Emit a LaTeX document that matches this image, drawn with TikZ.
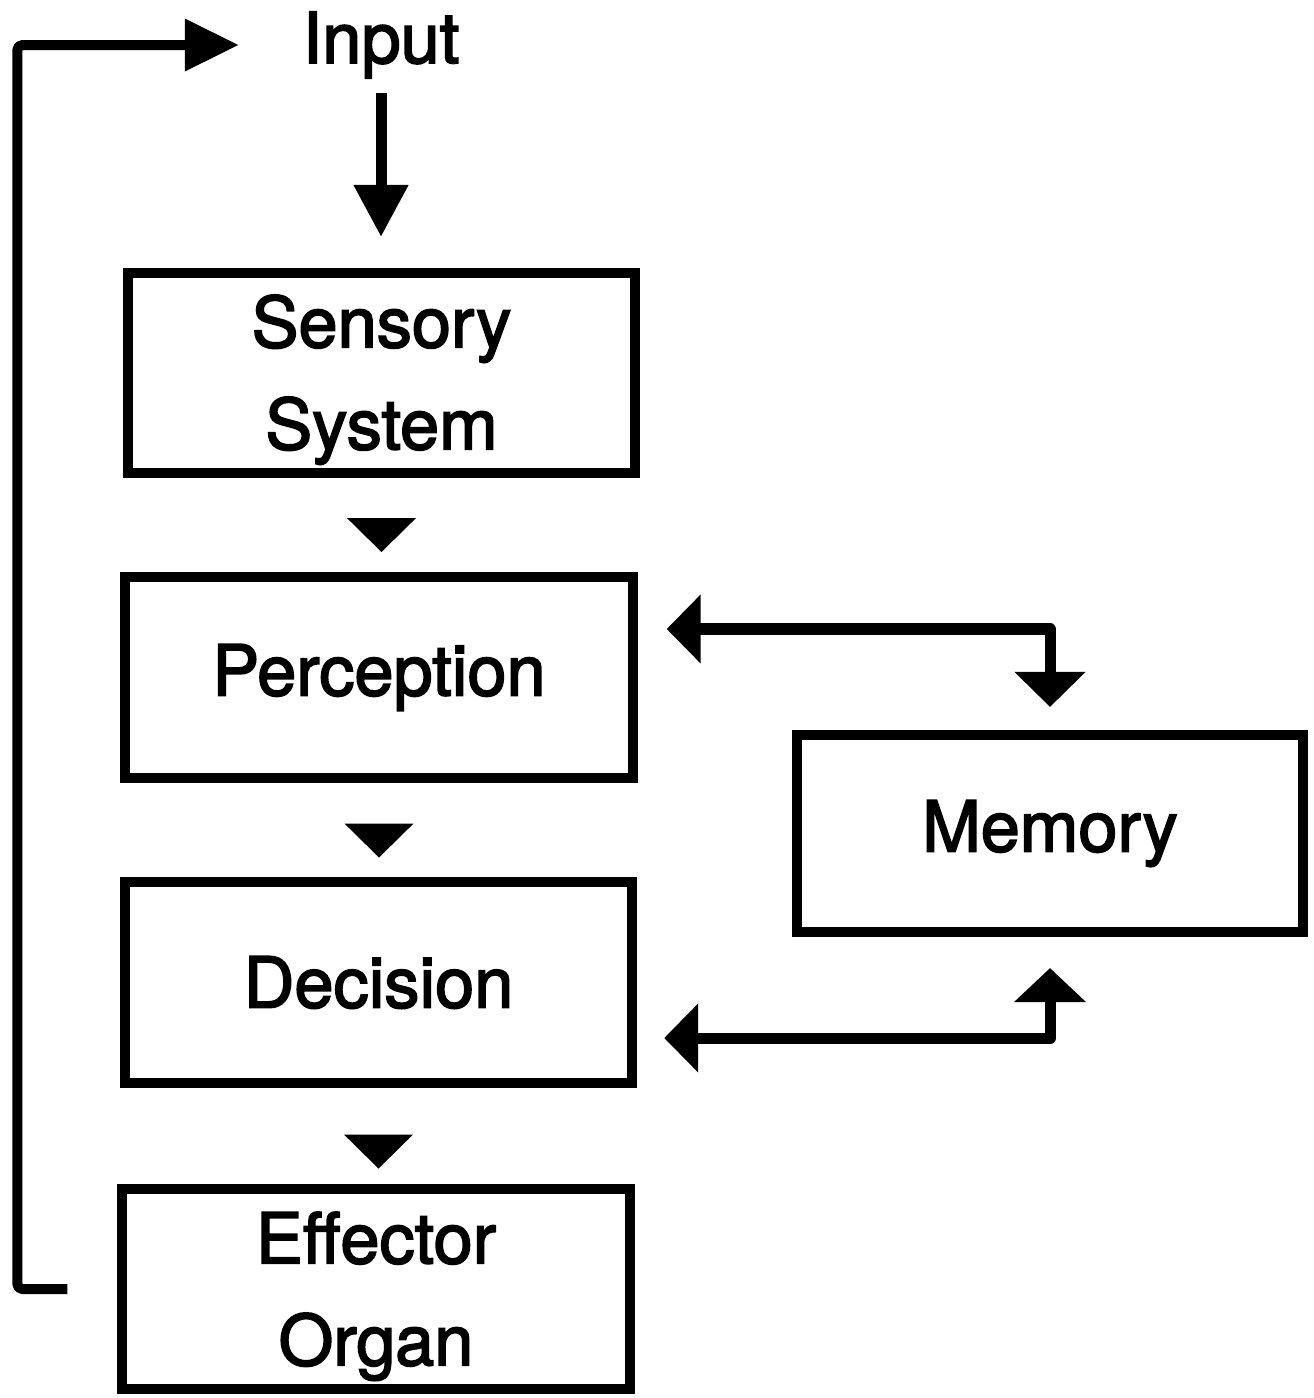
\documentclass[tikz,border=0pt]{standalone}
\usepackage{fontspec}
\setmainfont{TeX Gyre Heros}
\newfontfamily\heavyfont{TeX Gyre Heros}[FakeBold=2.4]
\usetikzlibrary{arrows.meta,calc}
\begin{document}
\begin{tikzpicture}[x=0.01cm,y=-0.01cm,
  blk/.style={draw, line width=0.1cm, minimum width=5.07cm, minimum height=2cm,
    align=center, inner sep=0pt, font=\heavyfont\fontsize{20}{29}\selectfont},
  conn/.style={line width=0.11cm, line join=round},
  lbl/.style={font=\heavyfont\fontsize{20}{29}\selectfont, inner sep=0.14cm},
  flowtri/.style={fill=black}]
\useasboundingbox (0,0) rectangle (1313,1398);

\node[lbl, anchor=base] (in) at (381,63) {Input};
\node[blk] (ss) at (381.5,373) {\rule{0pt}{0.66cm}Sensory\\System};
\node[blk] (pc) at (379,677.5) {Perception};
\node[blk] (dc) at (378.5,982.5) {Decision};
\node[blk] (ef) at (376,1289) {\rule{0pt}{0.66cm}Effector\\Organ};
\node[blk, minimum width=5.06cm, minimum height=1.97cm] (mem) at (1050,833.5) {Memory};

% input arrow
\draw[conn, -{Triangle[length=0.52cm,width=0.52cm]}, shorten >=0.31cm]
  (in.south) -- (in.south |- ss.north);

% feedback loop
\draw[conn, line width=0.1cm, rounded corners=0.05cm,
  -{Triangle[length=0.54cm,width=0.5cm]}, shorten >=0.49cm]
  ([xshift=-0.5cm]ef.west) -- ++(-50,0) |- (in.west);

% flow triangles
\fill[flowtri] ($(ss.south)+(-34.5,40)$) -- ++(69,0) -- ++(-34.5,34) -- cycle;
\fill[flowtri] ($(pc.south)+(-34.5,41)$) -- ++(69,0) -- ++(-34.5,34) -- cycle;
\fill[flowtri] ($(dc.south)+(-34.5,47)$) -- ++(69,0) -- ++(-34.5,34) -- cycle;

% memory connectors
\draw[conn, {Triangle[length=0.34cm,width=0.67cm]}-{Triangle[length=0.35cm,width=0.69cm]},
  shorten <=0.29cm, shorten >=0.23cm]
  ($(pc.east)+(0,-48.5)$) -| (mem.north);
\draw[conn, {Triangle[length=0.34cm,width=0.67cm]}-{Triangle[length=0.34cm,width=0.70cm]},
  shorten <=0.27cm, shorten >=0.31cm]
  ($(dc.east)+(0,55.5)$) -| (mem.south);
\end{tikzpicture}
\end{document}
